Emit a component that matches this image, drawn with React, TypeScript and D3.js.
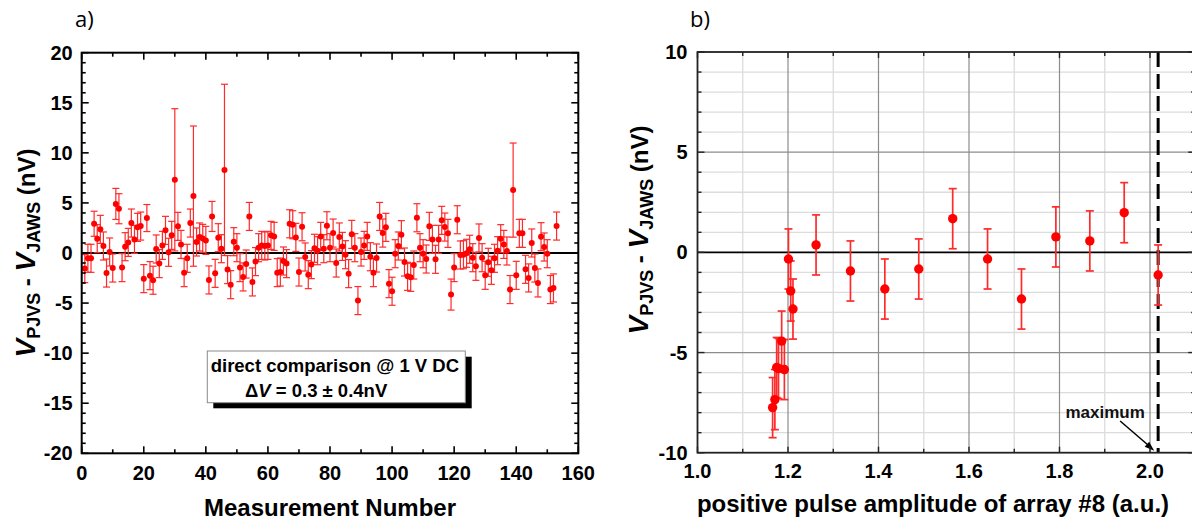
import React from 'react';
import * as d3 from 'd3';

// ---------- Panel a data: direct comparison, measurement number 1..153 ----------
const measValues = [
  -1.56, -0.53, -0.53, 2.92, 1.43, 2.36, 0.7, -2.0, 0.1, -1.5,
  4.9, 4.42, -1.46, 0.63, 1.06, 2.99, 1.36, 2.56, 2.69, -2.56,
  3.49, -2.26, -2.72, 0.4, -1.06, 0.76, 2.26, 0.07, 1.76, 7.31,
  2.66, 0.86, -1.96, -0.53, 2.99, 5.68, 1.1, 1.6, 1.46, 1.26,
  -2.69, 3.65, -2.03, 1.53, 0.43, 8.3, -1.66, -3.16, 1.13, 0.53,
  -1.46, -2.39, -1.1, 3.65, -2.89, -0.86, 0.53, 0.76, 0.7, 0.76,
  1.76, 1.66, -1.96, -1.9, -0.8, -1.06, 2.92, 2.82, 1.56, -1.9,
  2.62, -0.4, -2.16, -1.16, 0.47, 0.23, 1.66, 0.43, 2.72, 0.53,
  1.99, -1.0, 1.6, 0.66, -0.17, -2.06, 1.86, 0.53, -4.75, 0.1,
  0.76, 1.66, -0.37, -1.96, -0.5, 3.65, 1.99, 2.56, -3.06, -3.82,
  -0.07, 0.7, 1.83, -0.9, -2.33, -2.43, -1.2, 3.52, 0.53, -0.07,
  -0.6, 2.66, 1.36, -0.63, 1.36, 3.26, 2.59, 1.96, -4.15, -1.46,
  3.32, -0.2, -0.17, -0.03, 0.37, -0.47, -1.33, 1.5, -0.47, -2.23,
  -0.93, -1.73, -0.53, 0.23, 1.43, 0.86, 0.2, -3.65, 6.28, -2.23,
  1.96, 1.96, -1.63, -2.49, 1.0, -1.5, -2.99, 1.63, 0.6, -0.07,
  -3.65, -3.49, 2.69,
];
const measErrors = [
  1.4, 1.4, 1.4, 1.25, 1.4, 1.4, 1.4, 1.4, 1.4, 1.4,
  1.55, 1.5, 1.4, 1.4, 1.4, 1.4, 1.4, 1.4, 1.4, 1.4,
  1.35, 1.4, 1.4, 1.4, 1.4, 1.4, 1.4, 1.4, 1.4, 7.1,
  1.4, 1.4, 1.4, 1.4, 1.4, 7.0, 1.4, 1.4, 1.4, 1.4,
  1.4, 1.5, 1.4, 1.4, 1.4, 8.55, 1.4, 1.4, 1.4, 1.4,
  1.4, 1.4, 1.4, 1.4, 1.4, 1.4, 1.4, 1.4, 1.4, 1.4,
  1.4, 1.4, 1.4, 1.4, 1.4, 1.4, 1.4, 1.4, 1.4, 1.4,
  1.4, 1.4, 1.4, 1.4, 1.4, 1.4, 1.4, 1.4, 1.4, 1.4,
  1.4, 1.4, 1.4, 1.4, 1.4, 1.4, 1.4, 1.4, 1.4, 1.4,
  1.4, 1.4, 1.4, 1.4, 1.4, 1.4, 1.4, 1.4, 1.4, 1.4,
  1.4, 1.4, 1.4, 1.4, 1.4, 1.4, 1.4, 1.4, 1.4, 1.4,
  1.4, 1.4, 1.4, 1.4, 1.4, 1.4, 1.4, 1.4, 1.55, 1.4,
  1.4, 1.4, 1.4, 1.4, 1.4, 1.4, 1.4, 1.4, 1.4, 1.4,
  1.4, 1.4, 1.4, 1.4, 1.4, 1.4, 1.4, 1.4, 4.7, 1.4,
  1.4, 1.4, 1.4, 1.4, 1.4, 1.4, 1.4, 1.4, 1.4, 1.4,
  1.4, 1.4, 1.4,
];
const measXTicks = [0, 20, 40, 60, 80, 100, 120, 140, 160];
const measYTicks = [-20, -15, -10, -5, 0, 5, 10, 15, 20];

// ---------- Panel b data: pulse amplitude scan ----------
const pulseAmp = [1.166, 1.171, 1.175, 1.179, 1.186, 1.192, 1.201, 1.206, 1.211, 1.262,
  1.338, 1.414, 1.489, 1.564, 1.641, 1.716, 1.792, 1.867, 1.943, 2.018];
const pulseDiff = [-7.75, -7.35, -5.75, -5.8, -4.43, -5.85, -0.33, -1.93, -2.83, 0.37,
  -0.93, -1.83, -0.83, 1.68, -0.33, -2.33, 0.77, 0.57, 1.98, -1.13];
const pulseErr = [1.5, 1.5, 1.5, 1.5, 1.5, 1.5, 1.5, 1.5, 1.5, 1.5,
  1.5, 1.5, 1.5, 1.5, 1.5, 1.5, 1.5, 1.5, 1.5, 1.5];
const pulseXTicks = [1.0, 1.2, 1.4, 1.6, 1.8, 2.0];
const pulseYTicks = [-10, -5, 0, 5, 10];
const maxPulse = 2.018;

const FONT = "'Liberation Sans', Arial, Helvetica, sans-serif";
const RED = '#ff0000';
const ERR = '#ff2a2a';

function YTitle({ cx, cy }: { cx: number; cy: number }) {
  return (
    <text transform={`translate(${cx},${cy}) rotate(-90)`} y={10} textAnchor="middle"
      fontFamily={FONT} fontWeight="bold" fill="#000">
      <tspan fontStyle="italic" fontSize={28}>V</tspan>
      <tspan fontSize={18} dy={5}>PJVS</tspan>
      <tspan fontSize={24} dy={-5}>{' - '}</tspan>
      <tspan fontStyle="italic" fontSize={28}>V</tspan>
      <tspan fontSize={18} dy={5}>JAWS</tspan>
      <tspan fontSize={24} dy={-5}>{' (nV)'}</tspan>
    </text>
  );
}

export default function App() {
  // panel a scales
  const ax = d3.scaleLinear().domain([0, 160]).range([81.7, 578.3]);
  const ay = d3.scaleLinear().domain([-20, 20]).range([453.3, 52.7]);
  // panel b scales
  const bx = d3.scaleLinear().domain([1.0, 2.1]).range([697.5, 1195.25]);
  const by = d3.scaleLinear().domain([-10, 10]).range([452.7, 52]);

  const aL = ax(0), aR = ax(160), aT = ay(20), aB = ay(-20);
  const bL = bx(1.0), bR = bx(2.1), bT = by(10), bB = by(-10);

  const aXt = ax.ticks(16); // every 10
  const aYt = ay.ticks(40); // every 1
  const bXt = bx.ticks(11); // every 0.1
  const bYt = by.ticks(20); // every 1

  const isMaj = (v: number, step: number) => Math.abs(v / step - Math.round(v / step)) < 1e-6;

  const mxX = bx(maxPulse);

  return (
    <svg width={1192} height={521} style={{ position: 'absolute', left: 0, top: 0, background: '#fff' }}
      xmlns="http://www.w3.org/2000/svg">
      <rect x={0} y={0} width={1192} height={521} fill="#fff" />

      {/* ================= Panel a ================= */}
      <text x={75} y={27} fontFamily="'Open Sans', sans-serif" fontSize={22} fill="#000">a)</text>

      {/* zero line */}
      <line x1={aL} x2={aR} y1={ay(0)} y2={ay(0)} stroke="#000" strokeWidth={1.8} />

      {/* error bars */}
      <g stroke={ERR} strokeWidth={1.2} fill="none">
        {measValues.map((v, i) => {
          const x = ax(i + 1);
          const e = measErrors[i];
          const y1 = ay(v + e), y2 = ay(v - e);
          return (
            <g key={i}>
              <line x1={x} x2={x} y1={y1} y2={y2} />
              <line x1={x - 3.5} x2={x + 3.5} y1={y1} y2={y1} />
              <line x1={x - 3.5} x2={x + 3.5} y1={y2} y2={y2} />
            </g>
          );
        })}
      </g>
      <g fill={RED}>
        {measValues.map((v, i) => (
          <circle key={i} cx={ax(i + 1)} cy={ay(v)} r={3} />
        ))}
      </g>

      {/* annotation box */}
      <rect x={213.3} y={356.7} width={258.4} height={51.6} fill="#000" />
      <rect x={207.3} y={351} width={258} height={51.7} fill="#fff" stroke="#8a8a8a" strokeWidth={1} />
      <text x={210.7} y={371.7} fontFamily={FONT} fontWeight="bold" fontSize={18.5} fill="#000">
        direct comparison @ 1 V DC
      </text>
      <text x={245} y={396.7} fontFamily={FONT} fontWeight="bold" fontSize={18.5} fill="#000">
        <tspan>Δ</tspan><tspan fontStyle="italic">V</tspan><tspan>{' = 0.3 ± 0.4nV'}</tspan>
      </text>

      {/* frame & ticks */}
      <rect x={aL} y={aT} width={aR - aL} height={aB - aT} fill="none" stroke="#000" strokeWidth={2} />
      <g stroke="#000" strokeWidth={1.6}>
        {aXt.map((t) => {
          const len = isMaj(t, 20) ? 7 : 4;
          const x = ax(t);
          return (
            <g key={'ax' + t}>
              <line x1={x} x2={x} y1={aB} y2={aB - len} />
              <line x1={x} x2={x} y1={aT} y2={aT + len} />
            </g>
          );
        })}
        {aYt.map((t) => {
          const len = isMaj(t, 5) ? 7 : 4;
          const y = ay(t);
          return (
            <g key={'ay' + t}>
              <line x1={aL} x2={aL + len} y1={y} y2={y} />
              <line x1={aR} x2={aR - len} y1={y} y2={y} />
            </g>
          );
        })}
      </g>
      <g fontFamily={FONT} fontWeight="bold" fontSize={20} fill="#000">
        {measXTicks.map((t) => (
          <text key={'axl' + t} x={ax(t)} y={480} textAnchor="middle">{t}</text>
        ))}
        {measYTicks.map((t) => (
          <text key={'ayl' + t} x={aL - 9} y={ay(t) + 7} textAnchor="end">{t}</text>
        ))}
      </g>
      <text x={(aL + aR) / 2} y={516} textAnchor="middle" fontFamily={FONT} fontWeight="bold" fontSize={24} fill="#000">
        Measurement Number
      </text>
      <YTitle cx={25} cy={ay(0)} />

      {/* ================= Panel b ================= */}
      <text x={690} y={27} fontFamily="'Open Sans', sans-serif" fontSize={22} fill="#000">b)</text>

      {/* grid */}
      <g strokeWidth={1.3}>
        {bXt.filter((t) => !isMaj(t, 0.2)).map((t) => (
          <line key={'bgx' + t} x1={bx(t)} x2={bx(t)} y1={bT} y2={bB} stroke="#dcdcdc" />
        ))}
        {bYt.filter((t) => !isMaj(t, 5)).map((t) => (
          <line key={'bgy' + t} x1={bL} x2={bR} y1={by(t)} y2={by(t)} stroke="#dcdcdc" />
        ))}
        {bXt.filter((t) => isMaj(t, 0.2) && t > 1.01).map((t) => (
          <line key={'bGx' + t} x1={bx(t)} x2={bx(t)} y1={bT} y2={bB} stroke="#8c8c8c" strokeWidth={1.2} />
        ))}
        {bYt.filter((t) => isMaj(t, 5) && Math.abs(t) > 0.01 && Math.abs(t) < 9.99).map((t) => (
          <line key={'bGy' + t} x1={bL} x2={bR} y1={by(t)} y2={by(t)} stroke="#8c8c8c" strokeWidth={1.2} />
        ))}
      </g>
      <line x1={bL} x2={bR} y1={by(0)} y2={by(0)} stroke="#000" strokeWidth={1.6} />

      {/* maximum dashed line */}
      <line x1={mxX} x2={mxX} y1={bT} y2={bB} stroke="#000" strokeWidth={3} strokeDasharray="15,7" />

      {/* error bars */}
      <g stroke={ERR} strokeWidth={1.7} fill="none">
        {pulseAmp.map((a, i) => {
          const x = bx(a);
          const y1 = by(pulseDiff[i] + pulseErr[i]);
          const y2 = by(pulseDiff[i] - pulseErr[i]);
          return (
            <g key={i}>
              <line x1={x} x2={x} y1={y1} y2={y2} />
              <line x1={x - 4} x2={x + 4} y1={y1} y2={y1} />
              <line x1={x - 4} x2={x + 4} y1={y2} y2={y2} />
            </g>
          );
        })}
      </g>
      <g fill={RED}>
        {pulseAmp.map((a, i) => (
          <circle key={i} cx={bx(a)} cy={by(pulseDiff[i])} r={4.7} />
        ))}
      </g>

      {/* annotation "maximum" */}
      <text x={mxX - 53} y={417.7} textAnchor="middle" fontFamily={FONT} fontWeight="bold" fontSize={17} fill="#111">
        maximum
      </text>
      <line x1={mxX - 38} x2={mxX - 9} y1={421} y2={446} stroke="#000" strokeWidth={1.5} />
      <polygon
        points={`${mxX - 4},${bB - 2} ${mxX - 13.5},${bB - 6} ${mxX - 9},${bB - 11}`}
        fill="#000"
      />

      {/* frame & ticks */}
      <rect x={bL} y={bT} width={bR - bL} height={bB - bT} fill="none" stroke="#222" strokeWidth={1.8} />
      <g stroke="#222" strokeWidth={1.4}>
        {bXt.map((t) => {
          const len = isMaj(t, 0.2) ? 6 : 4;
          const x = bx(t);
          return (
            <g key={'bx' + t}>
              <line x1={x} x2={x} y1={bB} y2={bB - len} />
              <line x1={x} x2={x} y1={bT} y2={bT + len} />
            </g>
          );
        })}
        {bYt.map((t) => {
          const len = isMaj(t, 5) ? 7 : 4;
          const y = by(t);
          return (
            <g key={'by' + t}>
              <line x1={bL} x2={bL + len} y1={y} y2={y} />
              <line x1={bR} x2={bR - len} y1={y} y2={y} />
            </g>
          );
        })}
      </g>
      <g fontFamily={FONT} fontWeight="bold" fontSize={20} fill="#000">
        {pulseXTicks.map((t) => (
          <text key={'bxl' + t} x={bx(t)} y={478} textAnchor="middle">{t.toFixed(1)}</text>
        ))}
        {pulseYTicks.map((t) => (
          <text key={'byl' + t} x={bL - 10} y={by(t) + 7} textAnchor="end">{t}</text>
        ))}
      </g>
      <text x={933} y={512} textAnchor="middle" fontFamily={FONT} fontWeight="bold" fontSize={24} fill="#000">
        positive pulse amplitude of array #8 (a.u.)
      </text>
      <YTitle cx={638} cy={230} />
    </svg>
  );
}
